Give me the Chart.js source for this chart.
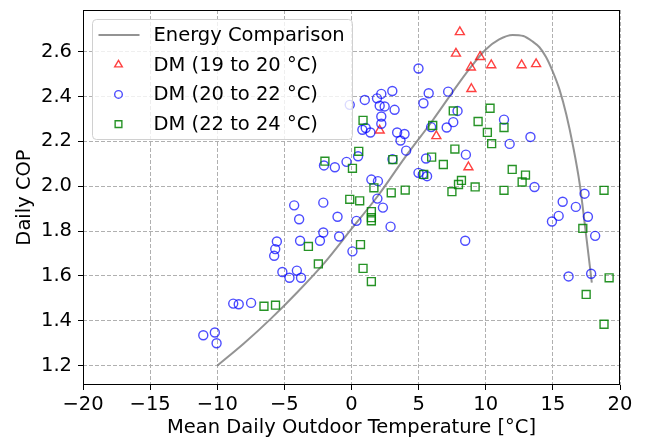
<!DOCTYPE html>
<html>
<head>
<meta charset="utf-8">
<script src="https://cdn.jsdelivr.net/npm/chart.js@4/dist/chart.umd.min.js"></script>
<style>
  html, body { margin: 0; padding: 0; background: #fff; }
</style>
</head>
<body>
<canvas id="chart" width="646" height="438"></canvas>
<script>
// Energy comparison curve
const curveTemp = [-10, -8, -6, -4, -2, 0, 2, 4, 6, 8, 9, 10, 11, 12, 12.8, 13.5, 14, 14.5, 15, 15.5, 16, 16.5, 17, 17.5, 17.9];
const curveCop = [1.2, 1.30, 1.41, 1.53, 1.66, 1.81, 1.96, 2.13, 2.29, 2.46, 2.54, 2.61, 2.655, 2.675, 2.67, 2.645, 2.62, 2.575, 2.51, 2.43, 2.32, 2.18, 2.01, 1.77, 1.57];

// DM (19 to 20 °C)
const dm1920Temp = [8.07, 7.78, 9.58, 8.89, 10.41, 12.67, 13.75, 8.93, 2.1, 6.32, 8.71];
const dm1920Cop = [2.688, 2.592, 2.577, 2.53, 2.54, 2.54, 2.545, 2.434, 2.249, 2.224, 2.085];

// DM (20 to 22 °C)
const dm2022Temp = [-11.04, -10.18, -10.05, -8.81, -8.4, -7.48, -5.56, -5.68, -5.76, -5.15, -4.62, -4.07, -3.76,
  -4.27, -2.1, -3.9, -1.04, 0.37, 2.91, -2.1, -2.35, -0.92, -3.83, 0.07, 1.93, 2.34, 1.48, 1.97,
  4.99, 5.31, 5.63, -2.05, -1.24, -0.37, 0.49, 3.05, 5.55, 4.07, 3.65, 3.4, 3.95, 0.81, 1.06, 1.41,
  2.22, 2.22, 3.21, 2.1, 2.47, -0.13, 0.99, 1.9, 2.22, 3.04, 4.99, 5.75, 5.36, 7.2, 7.9, 7.58, 7.09,
  5.93, 8.52, 11.36, 13.33, 11.78, 13.63, 8.47, 15.73, 16.71, 17.36, 15.43, 14.93, 17.61, 18.15, 16.17, 17.85];
const dm2022Cop = [1.336, 1.348, 1.30, 1.477, 1.474, 1.48, 1.754, 1.72, 1.69, 1.618, 1.592, 1.624, 1.592,
  1.915, 1.927, 1.853, 1.864, 1.846, 1.82, 1.794, 1.757, 1.776, 1.757, 1.71, 1.945, 1.905, 2.03, 2.023,
  2.06, 2.053, 2.045, 2.093, 2.085, 2.109, 2.134, 2.121, 2.124, 2.159, 2.204, 2.24, 2.233, 2.252, 2.26, 2.24,
  2.279, 2.311, 2.341, 2.359, 2.356, 2.363, 2.385, 2.392, 2.412, 2.425, 2.525, 2.415, 2.37, 2.422, 2.336, 2.286, 2.262,
  2.264, 2.141, 2.297, 2.22, 2.189, 1.997, 1.757, 1.931, 1.908, 1.967, 1.868, 1.843, 1.864, 1.779, 1.598, 1.61];

// DM (22 to 24 °C)
const dm2224Temp = [-6.52, -5.66, -3.21, -2.47, 0.86, 1.48, 0.67, 1.48, 1.48, 1.48, -0.13, 0.61, 1.67, 2.96, 4.0,
  -1.98, 0.07, 0.54, 0.86, 3.08, 5.97, 6.84, 6.05, 5.38, 7.58, 10.32, 9.43, 10.12, 11.36, 10.44, 7.7,
  11.97, 12.96, 12.71, 8.19, 7.97, 7.48, 9.21, 11.36, 18.81, 17.23, 19.19, 17.48, 18.81];
const dm2224Cop = [1.465, 1.47, 1.732, 1.654, 1.634, 1.575, 1.74, 1.887, 1.86, 1.846, 1.942, 1.935, 1.993, 1.971, 1.983,
  2.112, 2.08, 2.156, 2.294, 2.119, 2.13, 2.097, 2.271, 2.053, 2.336, 2.348, 2.289, 2.24, 2.262, 2.19, 2.166,
  2.075, 2.05, 2.019, 2.026, 2.008, 1.976, 1.997, 1.982, 1.982, 1.812, 1.592, 1.518, 1.385];

const xTicks = [-20, -15, -10, -5, 0, 5, 10, 15, 20];
const yTicks = [1.2, 1.4, 1.6, 1.8, 2.0, 2.2, 2.4, 2.6];

const FONT = "'DejaVu Sans', sans-serif";
const FONT_SIZE = 19.5;

function pts(xs, ys) {
    return xs.map((x, i) => ({ x: x, y: ys[i] }));
}

// matplotlib-like legend inside the plot, upper left
const innerLegend = {
    id: 'innerLegend',
    afterDatasetsDraw(chart) {
        const ctx = chart.ctx;
        const area = chart.chartArea;
        const x = area.left + 9.5, y = area.top + 9.5, w = 260, h = 120;
        ctx.save();
        ctx.beginPath();
        ctx.roundRect(x, y, w, h, 4);
        ctx.fillStyle = 'rgba(255,255,255,0.8)';
        ctx.fill();
        ctx.strokeStyle = '#d0d0d0';
        ctx.lineWidth = 1;
        ctx.stroke();

        ctx.font = FONT_SIZE + 'px ' + FONT;
        ctx.textBaseline = 'middle';
        ctx.textAlign = 'left';
        chart.data.datasets.forEach((ds, i) => {
            const rowY = y + 15.5 + i * 29.7;
            ctx.strokeStyle = ds.borderColor;
            ctx.lineWidth = ds.borderWidth;
            if (ds.showLine) {
                ctx.beginPath();
                ctx.moveTo(x + 6, rowY);
                ctx.lineTo(x + 47, rowY);
                ctx.stroke();
            } else {
                ctx.fillStyle = 'rgba(0,0,0,0)';
                Chart.helpers.drawPoint(ctx, {
                    pointStyle: ds.pointStyle, radius: ds.pointRadius * 0.85,
                    borderWidth: ds.borderWidth, rotation: 0
                }, x + 26, rowY);
            }
            ctx.fillStyle = '#000';
            ctx.fillText(ds.label, x + 61, rowY + 1);
        });
        ctx.restore();
    },
    afterDraw(chart) {
        const ctx = chart.ctx;
        const a = chart.chartArea;
        ctx.save();
        ctx.strokeStyle = '#000';
        ctx.lineWidth = 1;
        ctx.strokeRect(Math.round(a.left) + 0.5, Math.round(a.top) + 0.5,
            Math.round(a.right - a.left) - 1, Math.round(a.bottom - a.top) - 1);
        ctx.restore();
    }
};

const ctx = document.getElementById('chart').getContext('2d');

new Chart(ctx, {
    type: 'scatter',
    data: {
        datasets: [
            {
                label: 'Energy Comparison',
                data: pts(curveTemp, curveCop),
                showLine: true,
                borderColor: 'rgba(128,128,128,0.85)',
                borderWidth: 2,
                pointRadius: 0,
                cubicInterpolationMode: 'monotone',
                order: 3
            },
            {
                label: 'DM (19 to 20 °C)',
                data: pts(dm1920Temp, dm1920Cop),
                pointStyle: 'triangle',
                pointRadius: 5.2,
                borderColor: 'rgba(255,0,0,0.75)',
                backgroundColor: 'rgba(0,0,0,0)',
                borderWidth: 1.4,
                order: 2
            },
            {
                label: 'DM (20 to 22 °C)',
                data: pts(dm2022Temp, dm2022Cop),
                pointStyle: 'circle',
                pointRadius: 4.5,
                borderColor: 'rgba(0,0,255,0.7)',
                backgroundColor: 'rgba(0,0,0,0)',
                borderWidth: 1.4,
                order: 1
            },
            {
                label: 'DM (22 to 24 °C)',
                data: pts(dm2224Temp, dm2224Cop),
                pointStyle: 'rect',
                pointRadius: 5.6,
                borderColor: 'rgba(0,128,0,0.85)',
                backgroundColor: 'rgba(0,0,0,0)',
                borderWidth: 1.4,
                order: 0
            }
        ]
    },
    options: {
        responsive: false,
        animation: false,
        layout: { padding: { top: 10, right: 26, bottom: 0, left: 0 } },
        plugins: {
            legend: { display: false },
            tooltip: { enabled: false }
        },
        scales: {
            x: {
                type: 'linear',
                min: -20,
                max: 20,
                afterBuildTicks: s => { s.ticks = xTicks.map(v => ({ value: v })); },
                afterFit: s => { s.height = 53; s.paddingLeft = 0; s.paddingRight = 0; },
                grid: { color: '#b0b0b0', lineWidth: 1, tickLength: 5, tickColor: '#000', tickWidth: 1 },
                border: { display: false, dash: [4, 2] },
                ticks: {
                    color: '#000',
                    font: { family: FONT, size: FONT_SIZE },
                    padding: 3,
                    maxRotation: 0,
                    autoSkip: false,
                    callback: v => (v < 0 ? '\u2212' + Math.abs(v) : String(v))
                },
                title: {
                    display: true,
                    text: 'Mean Daily Outdoor Temperature [°C]',
                    color: '#000',
                    font: { family: FONT, size: FONT_SIZE, lineHeight: 1 },
                    padding: { top: 0, bottom: 0 }
                }
            },
            y: {
                type: 'linear',
                min: 1.114,
                max: 2.786,
                afterBuildTicks: s => { s.ticks = yTicks.map(v => ({ value: v })); },
                afterFit: s => { s.width = 83; s.paddingTop = 0; s.paddingBottom = 0; },
                grid: { color: '#b0b0b0', lineWidth: 1, tickLength: 5, tickColor: '#000', tickWidth: 1 },
                border: { display: false, dash: [4, 2] },
                ticks: {
                    color: '#000',
                    font: { family: FONT, size: FONT_SIZE },
                    padding: 6,
                    autoSkip: false,
                    callback: v => v.toFixed(1)
                },
                title: {
                    display: true,
                    text: 'Daily COP',
                    color: '#000',
                    font: { family: FONT, size: FONT_SIZE, lineHeight: 1 },
                    padding: { top: 15.5, bottom: 0 }
                }
            }
        }
    },
    plugins: [innerLegend]
});
</script>
</body>
</html>
